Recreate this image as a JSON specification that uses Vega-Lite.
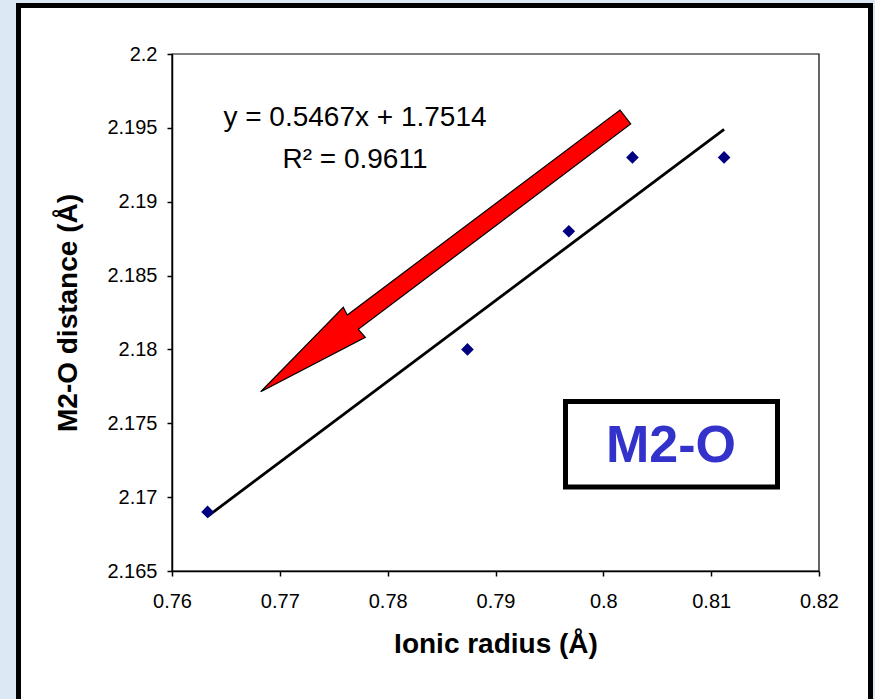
{
  "$schema": "https://vega.github.io/schema/vega-lite/v6.json",
  "width": 647,
  "height": 517,
  "autosize": {"type": "none"},
  "padding": {"left": 172, "top": 54, "right": 56, "bottom": 128},
  "background": "#dce8f4",
  "config": {"font": "Liberation Sans", "view": {"stroke": null}},
  "encoding": {
    "x": {
      "field": "radius", "type": "quantitative",
      "scale": {"domain": [0.76, 0.82], "nice": false, "zero": false},
      "axis": {
        "title": "Ionic radius (Å)",
        "values": [0.76, 0.77, 0.78, 0.79, 0.8, 0.81, 0.82],
        "format": ".2~f",
        "grid": false,
        "zindex": 1,
        "domainColor": "#000", "domainWidth": 1.5,
        "tickColor": "#000", "tickSize": 5, "tickWidth": 1.5,
        "labelColor": "#000", "labelFontSize": 20, "labelPadding": 15, "labelFlush": false,
        "titleColor": "#000", "titleFontSize": 28, "titleFontWeight": "bold", "titlePadding": 19
      }
    },
    "y": {
      "field": "distance", "type": "quantitative",
      "scale": {"domain": [2.165, 2.2], "nice": false, "zero": false},
      "axis": {
        "title": "M2-O distance (Å)",
        "values": [2.165, 2.17, 2.175, 2.18, 2.185, 2.19, 2.195, 2.2],
        "format": ".3~f",
        "grid": false,
        "zindex": 1,
        "domainColor": "#000", "domainWidth": 1.5,
        "tickColor": "#000", "tickSize": 5, "tickWidth": 1.5,
        "labelColor": "#000", "labelFontSize": 20, "labelPadding": 10, "labelFlush": false,
        "titleColor": "#000", "titleFontSize": 28, "titleFontWeight": "bold", "titlePadding": 24
      }
    }
  },
  "layer": [
    {
      "data": {"values": [{"radius": 0.745765, "radius2": 0.824776, "distance": 2.203283, "distance2": 2.155928}]},
      "mark": {"type": "rect", "fill": "#ffffff", "stroke": "#000000", "strokeWidth": 5},
      "encoding": {"x2": {"field": "radius2"}, "y2": {"field": "distance2"}}
    },
    {
      "data": {"values": [{"radius": 0.76, "radius2": 0.82, "distance": 2.165, "distance2": 2.2}]},
      "mark": {"type": "rect", "fill": null, "fillOpacity": 0, "stroke": "#000000", "strokeWidth": 1.2},
      "encoding": {"x2": {"field": "radius2"}, "y2": {"field": "distance2"}}
    },
    {
      "data": {"values": [{"radius": 0.7633, "distance": 2.1687}, {"radius": 0.8112, "distance": 2.1949}]},
      "mark": {"type": "line", "color": "#000000", "strokeWidth": 2.8}
    },
    {
      "data": {"values": [{"radius": 0.785382, "distance": 2.186673}]},
      "mark": {
        "type": "point",
        "shape": "M0.8715,-0.70425L0.925,-0.63425L-0.437,0.39225L-0.402,0.43225L-0.925,0.70425L-0.512,0.28225L-0.492,0.32075Z",
        "filled": true,
        "fill": "#ff0000",
        "stroke": "#000000",
        "strokeWidth": 1.2,
        "size": 160000,
        "opacity": 1,
        "fillOpacity": 1,
        "strokeOpacity": 1
      }
    },
    {
      "data": {"values": [
        {"radius": 0.7633, "distance": 2.169},
        {"radius": 0.7874, "distance": 2.18},
        {"radius": 0.7968, "distance": 2.188},
        {"radius": 0.8027, "distance": 2.193},
        {"radius": 0.8112, "distance": 2.193}
      ]},
      "mark": {"type": "point", "shape": "diamond", "filled": true, "color": "#000080", "size": 160, "opacity": 1}
    },
    {
      "data": {"values": [{"radius": 0.796492, "radius2": 0.816151, "distance": 2.176475, "distance2": 2.170687}]},
      "mark": {"type": "rect", "fill": "#ffffff", "stroke": "#000000", "strokeWidth": 5},
      "encoding": {"x2": {"field": "radius2"}, "y2": {"field": "distance2"}}
    },
    {
      "data": {"values": [{"radius": 0.806275, "distance": 2.173462, "label": "M2-O"}]},
      "mark": {"type": "text", "align": "center", "baseline": "middle", "fontSize": 52, "fontWeight": "bold", "color": "#3333cc"},
      "encoding": {"text": {"field": "label"}}
    },
    {
      "data": {"values": [
        {"radius": 0.776971, "distance": 2.195667, "label": "y = 0.5467x + 1.7514"},
        {"radius": 0.776971, "distance": 2.192824, "label": "R² = 0.9611"}
      ]},
      "mark": {"type": "text", "align": "center", "baseline": "middle", "fontSize": 28, "color": "#000000"},
      "encoding": {"text": {"field": "label"}}
    }
  ]
}
